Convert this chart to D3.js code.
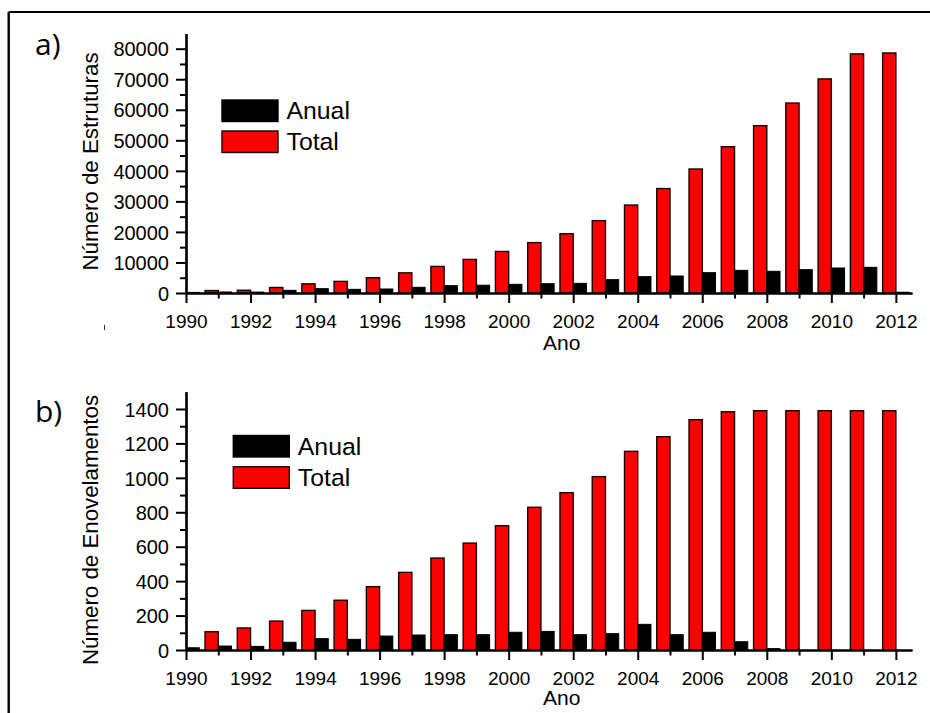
<!DOCTYPE html>
<html>
<head>
<meta charset="utf-8">
<script src="https://cdn.jsdelivr.net/npm/d3@7"></script>
<style>
  html, body { margin: 0; padding: 0; background: #fff; }
  svg { display: block; }
  .tick text { font-family: "Liberation Sans", Arial, sans-serif; fill: #000; }
</style>
</head>
<body>
<svg id="chart" width="930" height="713"></svg>
<script>
// ---------- data ----------
const years = [1990,1991,1992,1993,1994,1995,1996,1997,1998,1999,2000,2001,2002,2003,2004,2005,2006,2007,2008,2009,2010,2011,2012];
const xTickYears = [1990,1992,1994,1996,1998,2000,2002,2004,2006,2008,2010,2012];
const xMinorYears = [1991,1993,1995,1997,1999,2001,2003,2005,2007,2009,2011];

// Panel a) — Número de Estruturas
const totalA = [200, 800, 900, 1800, 3000, 3800, 5000, 6600, 8700, 11000, 13600, 16500, 19400, 23700, 28800, 34200, 40600, 47900, 54800, 62200, 70100, 78300, 78600];
const anualA = [200, 330, 300, 880, 1420, 1200, 1310, 1860, 2400, 2550, 2840, 3050, 3160, 4370, 5350, 5570, 6660, 7420, 7100, 7640, 8190, 8410, 250];
const yTicksA = [0,10000,20000,30000,40000,50000,60000,70000,80000];
const yMinorA = [5000,15000,25000,35000,45000,55000,65000,75000];

// Panel b) — Número de Enovelamentos
const totalB = [13, 106, 128, 168, 230, 289, 368, 451, 534, 621, 722, 829, 914, 1007, 1154, 1239, 1338, 1384, 1390, 1390, 1390, 1390, 1390];
const anualB = [13, 23, 21, 45, 66, 62, 81, 87, 89, 89, 103, 108, 89, 95, 149, 89, 103, 48, 8, 0, 0, 0, 0];
const yTicksB = [0,200,400,600,800,1000,1200,1400];
const yMinorB = [100,300,500,700,900,1100,1300];

const legendLabels = ["Anual", "Total"];
const seriesColors = ["#000000", "#ff0000"];

// ---------- drawing ----------
const svg = d3.select("#chart");
const FONT = '"Liberation Sans", Arial, sans-serif';

// frame (top and left border)
svg.append("line").attr("x1", 8.7).attr("y1", 12).attr("x2", 930).attr("y2", 12)
  .attr("stroke", "#000").attr("stroke-width", 2.2);
svg.append("line").attr("x1", 8.7).attr("y1", 12).attr("x2", 8.7).attr("y2", 713)
  .attr("stroke", "#000").attr("stroke-width", 2.4);
// small stray mark in the original
svg.append("line").attr("x1", 104.5).attr("y1", 325).attr("x2", 104.5).attr("y2", 330)
  .attr("stroke", "#333").attr("stroke-width", 1);

function panel(cfg) {
  const x = d3.scaleLinear().domain([1990, 2012.5]).range([186, 912]);
  const y = d3.scaleLinear().domain([0, cfg.yMax]).range([cfg.y0, cfg.yTop]);
  const step = x(1991) - x(1990);
  const bw = step * 0.41;

  const g = svg.append("g");
  const clipId = "clip" + cfg.id;
  svg.append("clipPath").attr("id", clipId).append("rect")
    .attr("x", 186).attr("y", cfg.yTop - 5).attr("width", 912 - 186).attr("height", cfg.y0 - cfg.yTop + 5);

  const bars = g.append("g").attr("clip-path", `url(#${clipId})`);
  // Total (red) to the left of each year tick
  bars.selectAll("rect.total").data(years.map((yr, i) => ({yr, v: cfg.total[i]})))
    .join("rect").attr("class", "total")
    .attr("x", d => x(d.yr) - bw)
    .attr("width", bw)
    .attr("y", d => y(d.v))
    .attr("height", d => y(0) - y(d.v))
    .attr("fill", seriesColors[1])
    .attr("stroke", "#1a0000").attr("stroke-width", 1.4);
  // Anual (black) to the right of each year tick
  bars.selectAll("rect.anual").data(years.map((yr, i) => ({yr, v: cfg.anual[i]})))
    .join("rect").attr("class", "anual")
    .attr("x", d => x(d.yr))
    .attr("width", bw)
    .attr("y", d => y(d.v))
    .attr("height", d => y(0) - y(d.v))
    .attr("fill", seriesColors[0])
    .attr("stroke", "#000").attr("stroke-width", 1);

  // minor ticks
  const xMinor = g.append("g").attr("transform", `translate(0,${cfg.y0})`)
    .call(d3.axisBottom(x).tickValues(xMinorYears).tickSize(5.5).tickSizeOuter(0).tickFormat(""));
  const yMinor = g.append("g").attr("transform", "translate(186,0)")
    .call(d3.axisLeft(y).tickValues(cfg.yMinor).tickSize(6).tickSizeOuter(0).tickFormat(""));

  // major axes
  const xAxis = g.append("g").attr("transform", `translate(0,${cfg.y0})`)
    .call(d3.axisBottom(x).tickValues(xTickYears).tickSize(10).tickSizeOuter(0).tickPadding(0).tickFormat(d3.format("d")));
  const yAxis = g.append("g").attr("transform", "translate(186,0)")
    .call(d3.axisLeft(y).tickValues(cfg.yTicks).tickSize(10).tickSizeOuter(0).tickPadding(7).tickFormat(d3.format("d")));

  [xMinor, yMinor, xAxis, yAxis].forEach(a => {
    a.selectAll("path.domain").attr("stroke", "#000").attr("stroke-width", 2.2);
    a.selectAll(".tick line").attr("stroke", "#000").attr("stroke-width", 2);
  });
  xAxis.selectAll(".tick text")
    .attr("font-size", 19).attr("font-family", FONT)
    .attr("dy", null).attr("y", cfg.xLabelBase - cfg.y0);
  yAxis.selectAll(".tick text")
    .attr("font-size", 20).attr("font-family", FONT).attr("dy", "0.36em");

  // axis titles
  g.append("text").attr("x", 561.7).attr("y", cfg.anoBase)
    .attr("text-anchor", "middle").attr("font-family", FONT).attr("font-size", 21)
    .text("Ano");
  g.append("text")
    .attr("transform", `translate(97.5,${cfg.titleCenter}) rotate(-90)`)
    .attr("text-anchor", "middle").attr("font-family", FONT).attr("font-size", 22.3)
    .text(cfg.yTitle);

  // panel letter
  g.append("text").attr("x", 35).attr("y", cfg.letterBase)
    .attr("font-family", '"Open Sans", sans-serif').attr("font-size", 30)
    .text(cfg.letter);

  // legend
  const lg = g.append("g");
  legendLabels.forEach((lab, i) => {
    const ry = cfg.legY + i * cfg.legGap;
    lg.append("rect").attr("x", cfg.legX).attr("y", ry).attr("width", 56).attr("height", 21.5)
      .attr("fill", seriesColors[i]).attr("stroke", i === 0 ? "#000" : "#1a0000").attr("stroke-width", 1.4);
    lg.append("text").attr("x", cfg.legX + 64.5).attr("y", ry + 19)
      .attr("font-family", FONT).attr("font-size", 24.8).text(lab);
  });
}

panel({
  id: "a", total: totalA, anual: anualA, yMax: 85000, y0: 293, yTop: 293 - 244.3 * 85000 / 80000,
  yTicks: yTicksA, yMinor: yMinorA, xLabelBase: 328, anoBase: 350,
  yTitle: "Número de Estruturas", titleCenter: 161.5, letter: "a)", letterBase: 55,
  legX: 222, legY: 100, legGap: 31
});
panel({
  id: "b", total: totalB, anual: anualB, yMax: 1500, y0: 650, yTop: 650 - 34.43 * 7.5,
  yTicks: yTicksB, yMinor: yMinorB, xLabelBase: 685, anoBase: 705,
  yTitle: "Número de Enovelamentos", titleCenter: 530, letter: "b)", letterBase: 421.5,
  legX: 233.3, legY: 435.5, legGap: 31.3
});
</script>
</body>
</html>
